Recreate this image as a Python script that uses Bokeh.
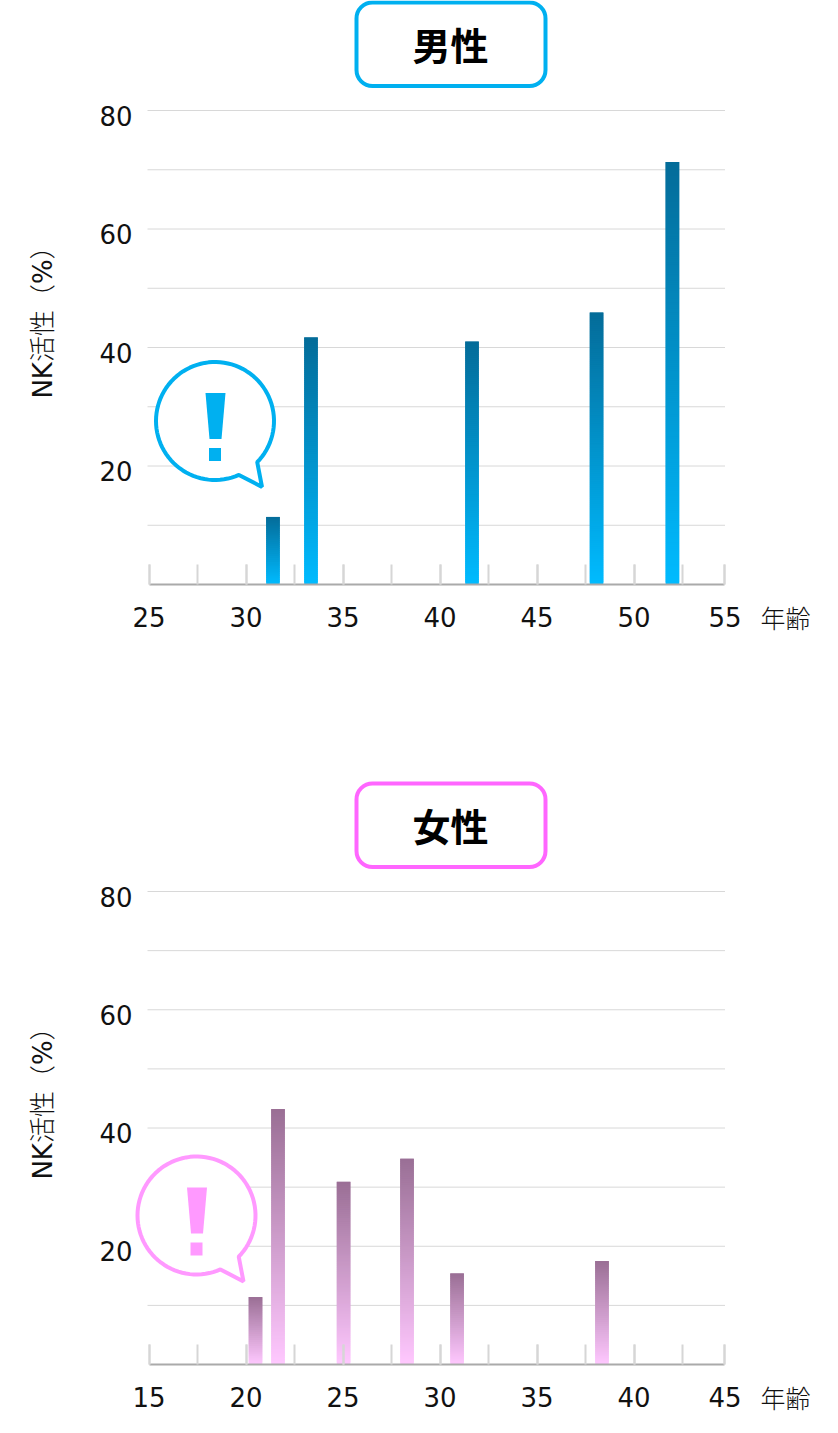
import numpy as np
from bokeh.plotting import figure
from bokeh.layouts import column
from bokeh.models import (Range1d, LinearAxis, FixedTicker, Label, PolyAnnotation,
                          BoxAnnotation, ColumnDataSource)
from bokeh.embed import file_html
from bokeh.resources import INLINE

# ---------- data ----------
male_ages = [31.39, 33.35, 41.65, 48.07, 51.98]
male_nk = [11.4, 41.7, 41.0, 45.9, 71.3]
female_ages = [20.49, 21.65, 25.03, 28.30, 30.88, 38.35]
female_nk = [11.4, 43.2, 30.9, 34.8, 15.4, 17.5]
male_tick_labels = [25, 30, 35, 40, 45, 50, 55]
female_tick_labels = [15, 20, 25, 30, 35, 40, 45]
y_tick_labels = [20, 40, 60, 80]
y_grid_values = [10, 20, 30, 40, 50, 60, 70, 80]

FONT = "DejaVu Sans, Noto Sans CJK JP"
CJK_LIGHT = "Noto Sans CJK JP Light, Noto Sans CJK JP"
PX_PER_YEAR = 19.4
BAR_YEARS = 13.6 / PX_PER_YEAR


def hex_mix(c0, c1, t):
    return "#%02x%02x%02x" % tuple(int(round(a + (b - a) * t)) for a, b in zip(c0, c1))


def panel(height, top_px, base_px, x0, title, ages, vals, tick_labels,
          box_color, accent, top_rgb, bot_rgb, bubble_cx, bubble_cy):
    left_px, right_px, tick0_px = 147, 724.5, 148.5
    px_per_unit = (base_px - top_px) / 80
    fx = lambda px: x0 + (np.asarray(px, float) - tick0_px) / PX_PER_YEAR
    fy = lambda py: (base_px - np.asarray(py, float)) / px_per_unit
    x_end = round(float(fx(right_px)), 2)
    p = figure(width=838, height=height, output_backend="svg", toolbar_location=None,
               x_range=Range1d(float(fx(0)), float(fx(838))),
               y_range=Range1d(float(fy(height)), float(fy(0))),
               y_axis_type=None, frame_width=838, frame_height=height,
               min_border=0, outline_line_color=None,
               background_fill_color="white", border_fill_color="white")
    p.xgrid.visible = False

    # horizontal grid lines
    p.segment(x0=float(fx(left_px)), x1=float(fx(right_px)), y0="y", y1="y",
              line_color="#d8d8d8", line_width=1, source=ColumnDataSource(dict(y=y_grid_values)))

    # x axis
    ax = p.xaxis[0]
    major = [float(t) for t in tick_labels[:-1]] + [x_end]
    minor = [x0 + 2.5 * i for i in range(12)] + [x_end]
    ax.ticker = FixedTicker(ticks=major, minor_ticks=minor)
    ax.major_label_overrides = {x_end: str(tick_labels[-1])}
    ax.bounds = (x0, x_end)
    ax.fixed_location = 0
    ax.axis_line_color = "#aaaaaa"
    ax.axis_line_width = 2
    ax.major_tick_in = 20
    ax.major_tick_out = 0
    ax.minor_tick_in = 20
    ax.minor_tick_out = 0
    ax.major_tick_line_color = "#d6d6d6"
    ax.minor_tick_line_color = "#d6d6d6"
    ax.major_tick_line_width = 2
    ax.minor_tick_line_width = 2
    ax.major_label_standoff = 22
    ax.major_label_text_font = FONT
    ax.major_label_text_font_size = "26px"
    ax.major_label_text_color = "#111111"

    # y axis labels: shifted range puts the numbers 5px below their gridlines
    shift = 5 / px_per_unit
    p.extra_y_ranges = {"lab": Range1d(p.y_range.start + shift, p.y_range.end + shift)}
    ay = LinearAxis(y_range_name="lab", ticker=FixedTicker(ticks=y_tick_labels))
    ay.fixed_location = float(fx(left_px))
    ay.axis_line_color = None
    ay.major_tick_line_color = None
    ay.minor_tick_line_color = None
    ay.major_label_standoff = 9
    ay.major_label_text_font = FONT
    ay.major_label_text_font_size = "26px"
    ay.major_label_text_color = "#111111"
    p.add_layout(ay, "left")

    # gradient bars, sliced from each value; slices overlap slightly so no seams show
    l, r, b, t, c = [], [], [], [], []
    for a, v in zip(ages, vals):
        n = max(int(v * px_per_unit / 2), 2)
        for i in range(n):
            l.append(a - BAR_YEARS / 2)
            r.append(a + BAR_YEARS / 2)
            b.append(v * i / n)
            t.append(min(v, v * (i + 2) / n))
            c.append(hex_mix(bot_rgb, top_rgb, (i + 0.5) / n))
    p.quad(left="l", right="r", bottom="b", top="t", fill_color="c", line_color=None,
           source=ColumnDataSource(dict(l=l, r=r, b=b, t=t, c=c)))

    # title box
    p.add_layout(BoxAnnotation(left=float(fx(356)), right=float(fx(545)),
                               top=float(fy(top_px - 108)), bottom=float(fy(top_px - 24.5)),
                               fill_color="white", fill_alpha=1, line_color=box_color, line_alpha=1,
                               line_width=4, border_radius=16, level="overlay"))
    p.add_layout(Label(x=float(fx(450)), y=float(fy(top_px - 67)), text=title, level="overlay",
                       text_align="center", text_baseline="middle",
                       text_font="Noto Sans CJK JP", text_font_style="bold",
                       text_font_size="38px", text_color="black"))

    # age unit and y title
    p.add_layout(Label(x=float(fx(785)), y=float(fy(base_px + 32)), text="年齢",
                       text_align="center", text_baseline="middle",
                       text_font=CJK_LIGHT, text_font_size="25px", text_color="#111111"))
    p.add_layout(Label(x=float(fx(42)), y=float(fy(top_px + 205.5)), text="NK活性（%）",
                       angle=np.pi / 2, text_align="center", text_baseline="middle",
                       text_font="DejaVu Sans, " + CJK_LIGHT, text_font_size="26px", text_color="#111111"))

    # speech bubble
    R = 59
    a0 = np.arctan2(41, 42)
    a1 = np.arctan2(54, 24)
    angs = np.linspace(a0, a1 - 2 * np.pi, 90)
    bx = list(bubble_cx + R * np.cos(angs)) + [bubble_cx + 47]
    by = list(bubble_cy + R * np.sin(angs)) + [bubble_cy + 66]
    p.add_layout(PolyAnnotation(xs=list(map(float, fx(bx))), ys=list(map(float, fy(by))),
                                fill_color="white", fill_alpha=1, line_color=accent, line_alpha=1,
                                line_width=4, level="overlay"))
    ex = bubble_cx + np.array([-9.5, 10.5, 6.5, -5.5])
    ey = bubble_cy + np.array([-28, -28, 18, 18])
    p.add_layout(PolyAnnotation(xs=list(map(float, fx(ex))), ys=list(map(float, fy(ey))),
                                fill_color=accent, fill_alpha=1, line_color=None, level="overlay"))
    dx = bubble_cx + np.array([-6, 6, 6, -6])
    dy = bubble_cy + np.array([27, 27, 40, 40])
    p.add_layout(PolyAnnotation(xs=list(map(float, fx(dx))), ys=list(map(float, fy(dy))),
                                fill_color=accent, fill_alpha=1, line_color=None, level="overlay"))
    return p


p1 = panel(780, 110, 584, 25, "男性", male_ages, male_nk, male_tick_labels,
           "#00b0f0", "#00b0f0", (4, 108, 153), (0, 187, 255), 214.5, 420.5)
p2 = panel(653, 111, 584, 15, "女性", female_ages, female_nk, female_tick_labels,
           "#ff66ff", "#ff99ff", (154, 111, 149), (255, 200, 255), 196, 1215 - 780)

layout = column(p1, p2, margin=(0, 0, 0, 0), spacing=0)
open("out.html", "w").write(file_html(layout, INLINE))
